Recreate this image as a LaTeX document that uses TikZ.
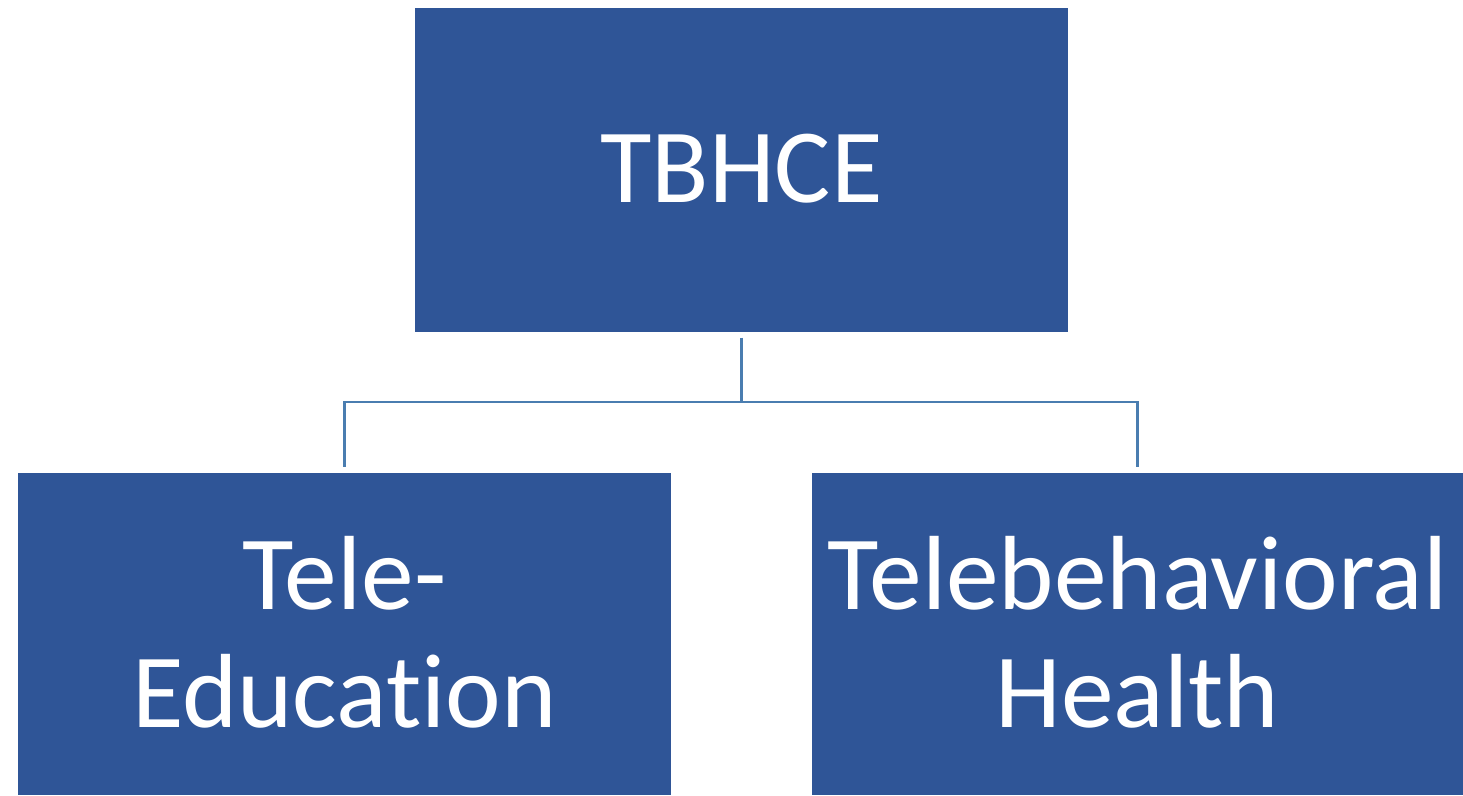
\documentclass[tikz,border=0pt]{standalone}
\usepackage{fontspec}
\setmainfont[Ligatures=NoCommon]{Carlito}
\definecolor{boxblue}{HTML}{2F5597}
\definecolor{lineblue}{HTML}{4A7DB0}

\begin{document}
\begin{tikzpicture}[x=0.02cm, y=-0.02cm,
		unitbox/.style={fill=boxblue, text=white, inner sep=0pt, align=center,
			font=\fontsize{60}{67}\selectfont},
		link/.style={draw=lineblue, line width=1.2pt}]
			%%%%% START %%%%%
			
			\useasboundingbox (0, 0) rectangle (1463, 795);
			
			\node[unitbox, minimum width=13.06cm, minimum height=6.48cm, text depth=0.06cm] (tbhce) at (741.5, 170) {TBHCE};
			\node[unitbox, minimum width=13.06cm, minimum height=6.44cm, text depth=0.08cm] (edu) at (344.5, 634) {Tele-\\Education};
			\node[unitbox, minimum width=13.02cm, minimum height=6.44cm, text depth=0.08cm] (tbh) at (1137.5, 634) {Telebehavioral\\Health};
			
			\coordinate (fork) at (741.5, 402);
			\draw[link, shorten <=3pt] (tbhce.south) -- (fork);
			\draw[link, shorten >=3pt] (fork) -| (edu.north);
			\draw[link, shorten >=3pt] (fork) -| (tbh.north);
			
			%%%%% END %%%%%
		\end{tikzpicture}
\end{document}
